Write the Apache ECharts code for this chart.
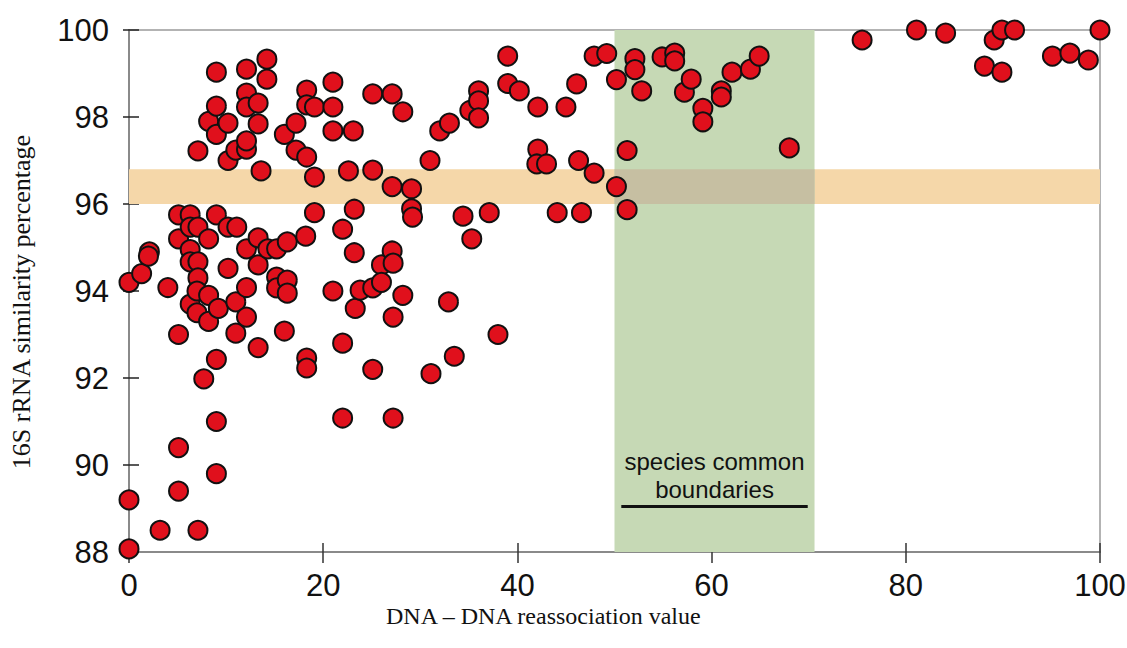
<!DOCTYPE html>
<html>
<head>
<meta charset="utf-8">
<script src="https://cdn.jsdelivr.net/npm/echarts@6/dist/echarts.min.js"></script>
<style>
  html, body { margin: 0; padding: 0; background: #fff; }
  #chart { width: 1127px; height: 648px; }
</style>
</head>
<body>
<div id="chart"></div>
<script>
(function() {
  'use strict';

  // ========== Data ==========
  // [DNA-DNA reassociation value, 16S rRNA similarity %]
  var points = [
    [0, 94.2], [0, 89.2], [0, 88.07], [1.3, 94.4], [2.1, 94.9], [2.0, 94.8], [3.2, 88.5], [4.0, 94.08],
    [5.1, 90.4], [5.1, 89.4], [5.1, 93.0], [5.1, 95.75], [5.1, 95.2],
    [6.3, 95.75], [6.3, 95.47], [6.3, 94.95], [6.3, 94.67], [6.3, 93.7], [7.1, 95.47], [7.1, 94.67],
    [7.1, 94.3], [7.0, 94.0], [7.0, 93.5], [7.1, 88.5], [7.7, 91.98], [7.1, 97.22], [8.2, 93.9],
    [8.2, 93.3], [8.2, 95.2], [8.2, 97.9], [9.0, 99.03], [9.0, 98.25], [9.0, 97.6], [9.0, 95.75],
    [9.2, 93.6], [9.0, 92.43], [9.0, 91.0], [9.0, 89.8],
    [10.2, 97.86], [10.2, 97.0], [10.2, 95.47], [11.1, 95.47], [10.2, 94.52], [11.0, 93.75], [11.0, 93.03],
    [11.0, 97.24], [12.1, 97.26], [12.1, 97.45], [12.1, 99.1], [12.1, 98.55], [12.1, 98.23], [12.1, 94.97],
    [12.1, 94.08], [12.1, 93.4], [13.3, 98.32], [13.3, 97.84], [13.6, 96.76], [13.3, 95.22], [13.3, 94.6],
    [13.3, 92.7],
    [14.2, 99.33], [14.2, 98.87], [14.3, 94.97], [15.2, 94.97], [15.2, 94.32], [15.2, 94.07], [16.3, 95.13],
    [16.3, 94.25], [16.3, 93.95], [16.0, 93.08], [16.0, 97.6], [17.2, 97.86], [17.2, 97.24], [18.3, 97.08],
    [18.3, 98.62], [18.3, 98.28], [19.1, 98.23], [19.1, 96.62], [19.1, 95.8], [18.2, 95.26], [18.3, 92.46],
    [18.3, 92.23],
    [21.0, 98.8], [21.0, 98.23], [21.0, 97.68], [21.0, 94.0], [22.0, 95.42], [22.0, 92.8], [22.0, 91.08],
    [22.6, 96.76], [23.1, 97.68], [23.2, 95.88], [23.2, 94.88], [23.3, 93.6], [23.8, 94.02],
    [25.1, 98.53], [25.1, 96.78], [25.1, 94.07], [25.1, 92.2], [26.0, 94.6], [26.0, 94.2], [27.1, 98.53],
    [27.1, 96.4], [27.1, 94.92], [27.2, 94.64], [27.2, 93.4], [27.2, 91.08], [28.2, 98.12], [28.2, 93.9],
    [29.1, 96.35], [29.1, 95.89], [29.2, 95.7],
    [31.0, 97.0], [31.1, 92.1], [32.0, 97.68], [33.0, 97.86], [32.9, 93.75], [33.5, 92.5], [34.4, 95.72],
    [35.1, 98.15], [35.3, 95.2], [36.0, 98.6], [36.0, 98.37], [36.0, 97.98], [37.1, 95.8], [38.0, 93.0],
    [39.0, 99.4], [39.0, 98.77], [40.2, 98.6], [42.1, 98.23], [42.1, 97.26], [42.0, 96.92], [43.0, 96.92],
    [44.1, 95.8], [45.0, 98.23], [46.1, 98.76], [46.3, 97.0], [46.6, 95.8], [47.9, 99.4], [47.9, 96.71],
    [49.2, 99.46], [50.2, 98.86], [50.2, 96.4],
    [51.3, 97.23], [51.3, 95.87], [52.1, 99.34], [52.1, 99.09], [52.8, 98.6], [54.9, 99.38], [56.2, 99.47],
    [56.2, 99.29], [57.2, 98.57], [57.9, 98.87], [59.1, 98.2], [59.1, 97.89], [61.0, 98.6], [61.0, 98.46],
    [62.1, 99.03], [64.0, 99.1], [64.9, 99.4], [68.0, 97.29],
    [75.5, 99.77], [81.1, 100], [84.1, 99.93], [88.1, 99.17], [89.1, 99.77], [89.9, 100], [89.9, 99.03],
    [91.2, 100], [95.1, 99.4], [96.9, 99.47], [98.8, 99.31], [100, 100]
  ];

  var xTicks = { min: 0, max: 100, interval: 20 };
  var yTicks = { min: 88, max: 100, interval: 2 };

  var rRnaBand = [96, 96.8];          // 16S threshold band
  var ddhBand = [50, 70.6];           // DDH species boundary band
  var boundaryLine = [50.7, 69.9, 89.05];
  var boundaryText = 'species common\nboundaries';

  var xName = 'DNA \u2013 DNA reassociation value';
  var yName = '16S rRNA similarity percentage';

  var tickFont = "'Liberation Sans', Arial, sans-serif";
  var serif = "'Liberation Serif', 'Times New Roman', serif";

  var chart = echarts.init(document.getElementById('chart'), null, { renderer: 'svg' });

  function baseX(extra) {
    var o = { type: 'value', min: xTicks.min, max: xTicks.max, interval: xTicks.interval, splitLine: { show: false } };
    for (var k in extra) o[k] = extra[k];
    return o;
  }
  function baseY(extra) {
    var o = { type: 'value', min: yTicks.min, max: yTicks.max, interval: yTicks.interval, splitLine: { show: false } };
    for (var k in extra) o[k] = extra[k];
    return o;
  }

  chart.setOption({
    animation: false,
    backgroundColor: '#fff',
    grid: {
      left: 129, right: 27, top: 30, bottom: 96,
      outerBoundsMode: 'none',
      show: true, borderColor: '#9a9a9a', borderWidth: 1.5
    },
    xAxis: [
      baseX({
        position: 'bottom',
        axisLine: { show: true, lineStyle: { color: '#8a8a8a', width: 2 } },
        axisTick: { show: true, length: 11, lineStyle: { color: '#333', width: 1.5 } },
        axisLabel: { margin: 18, fontSize: 31, color: '#111', fontFamily: tickFont }
      }),
      baseX({
        position: 'bottom',
        axisLine: { show: false },
        axisTick: { show: true, inside: true, length: 9, lineStyle: { color: '#333', width: 1.5 } },
        axisLabel: { show: false }
      })
    ],
    yAxis: [
      baseY({
        position: 'left',
        axisLine: { show: true, lineStyle: { color: '#8a8a8a', width: 2 } },
        axisTick: { show: true, length: 6, lineStyle: { color: '#222', width: 1.5 } },
        axisLabel: { margin: 20, fontSize: 31, color: '#111', fontFamily: tickFont }
      }),
      baseY({
        position: 'left',
        axisLine: { show: false },
        axisTick: { show: true, inside: true, length: 10, lineStyle: { color: '#222', width: 1.5 } },
        axisLabel: { show: false }
      })
    ],
    graphic: [
      {
        type: 'text', left: 386, top: 604,
        style: { text: xName, fontSize: 24, fontFamily: serif, fill: '#111' }
      },
      {
        type: 'text', x: 21, y: 302, rotation: Math.PI / 2,
        style: { text: yName, fontSize: 26, fontFamily: serif, fill: '#111', textAlign: 'center', textVerticalAlign: 'middle' }
      }
    ],
    series: [
      {
        type: 'line',
        data: [],
        z: 1,
        silent: true,
        markArea: {
          silent: true,
          data: [
            [{ yAxis: rRnaBand[0], itemStyle: { color: '#f5d7a9' } }, { yAxis: rRnaBand[1] }],
            [{ xAxis: ddhBand[0], itemStyle: { color: '#c6d9b5' } }, { xAxis: ddhBand[1] }],
            [{ xAxis: ddhBand[0], yAxis: rRnaBand[0], itemStyle: { color: '#c6bfa2' } }, { xAxis: ddhBand[1], yAxis: rRnaBand[1] }]
          ]
        },
        markLine: {
          silent: true,
          symbol: 'none',
          lineStyle: { color: '#111', width: 3, type: 'solid' },
          label: {
            show: true,
            position: 'insideMiddleTop',
            distance: 3,
            formatter: boundaryText,
            fontSize: 24,
            lineHeight: 28,
            color: '#111',
            fontFamily: tickFont,
            align: 'center'
          },
          data: [[
            { coord: [boundaryLine[0], boundaryLine[2]] },
            { coord: [boundaryLine[1], boundaryLine[2]] }
          ]]
        }
      },
      {
        type: 'scatter',
        data: points,
        z: 3,
        clip: false,
        symbol: 'circle',
        symbolSize: 19,
        itemStyle: { color: '#e0101c', borderColor: '#111', borderWidth: 2, opacity: 1 }
      }
    ]
  });
})();
</script>
</body>
</html>
